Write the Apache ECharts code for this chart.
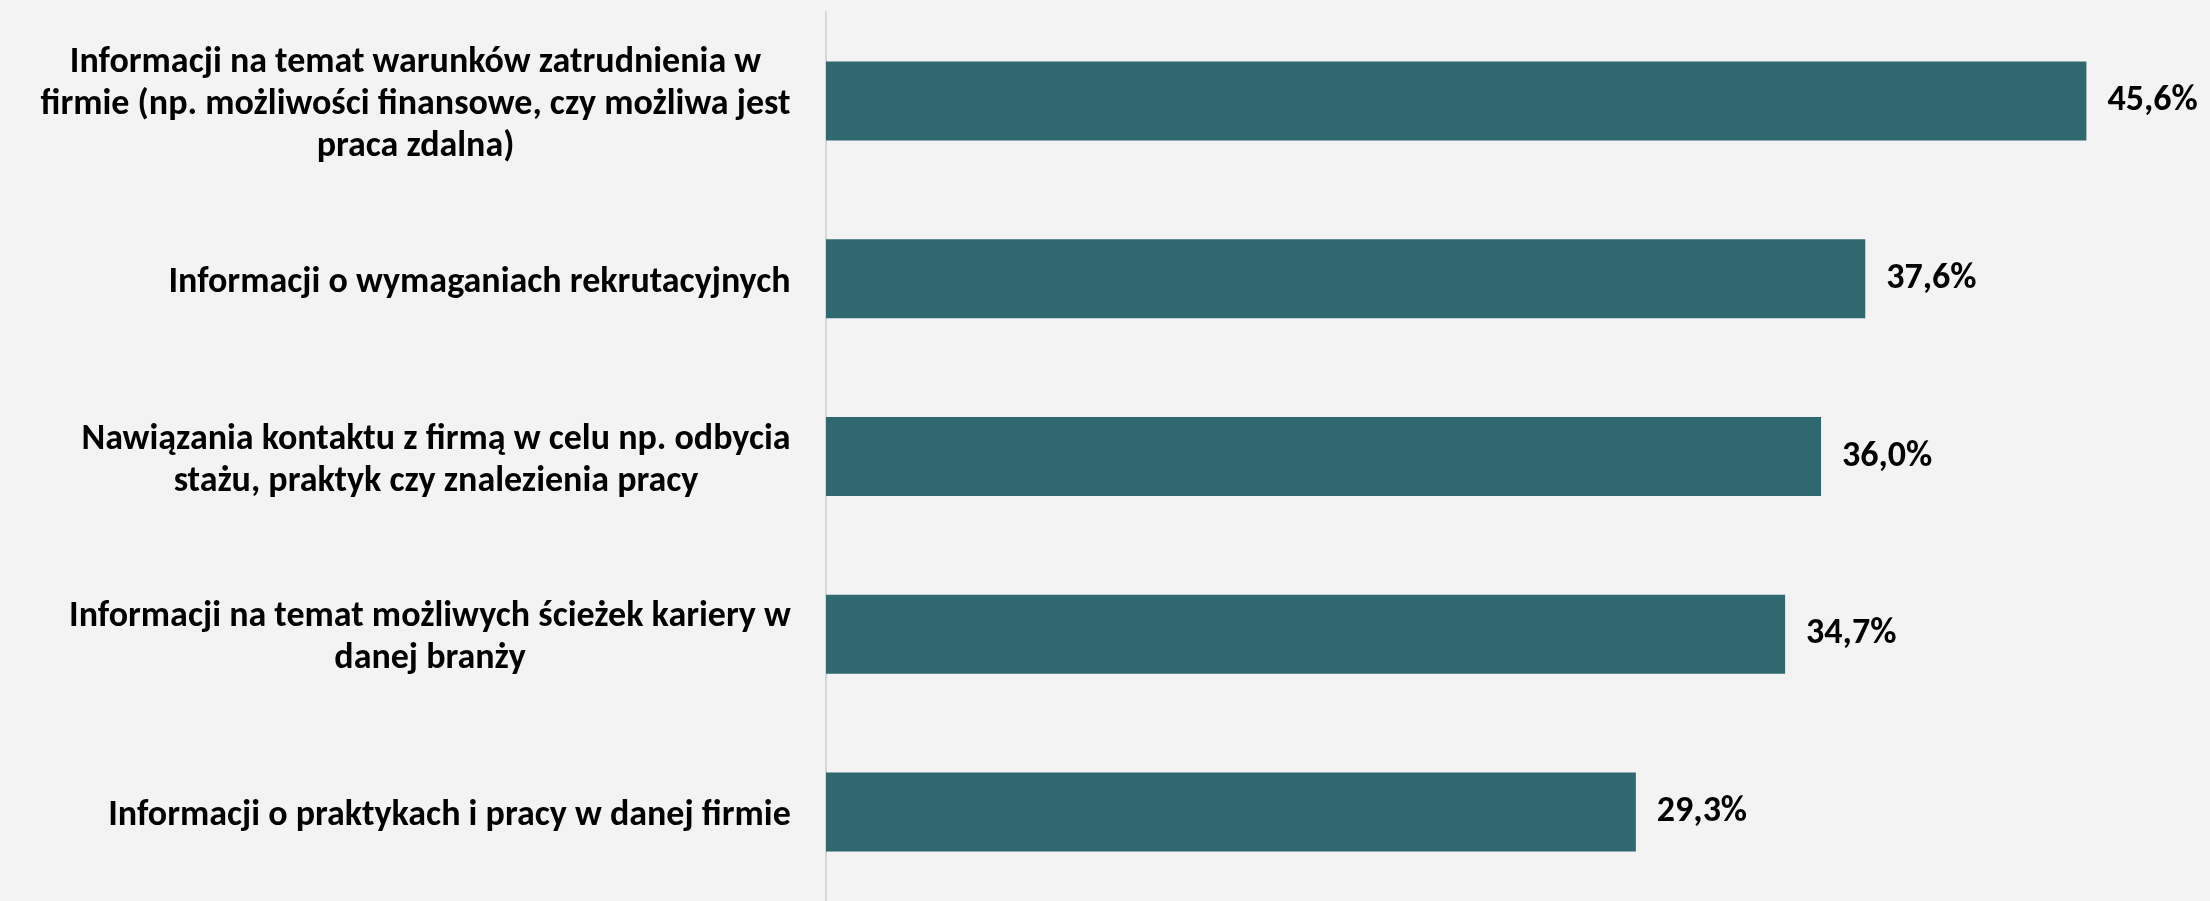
<!DOCTYPE html>
<html>
<head>
<meta charset="utf-8">
<script src="https://cdn.jsdelivr.net/npm/echarts@6/dist/echarts.min.js"></script>
<style>
  html, body { margin: 0; padding: 0; background: #f3f3f3; }
  #chart { width: 2210px; height: 901px; }
</style>
</head>
<body>
<div id="chart"></div>
<script>
// dane
var categories = [
    'Informacji na temat warunków zatrudnienia w\nfirmie (np. możliwości finansowe, czy możliwa jest\npraca zdalna)',
    'Informacji o wymaganiach rekrutacyjnych',
    'Nawiązania kontaktu z firmą w celu np. odbycia\nstażu, praktyk czy znalezienia pracy',
    'Informacji na temat możliwych ścieżek kariery w\ndanej branży',
    'Informacji o praktykach i pracy w danej firmie'
]
var values = [45.6, 37.6, 36.0, 34.7, 29.3]

var FONT = "Carlito, 'Liberation Sans Narrow', 'Open Sans', sans-serif"
var FS = 36

// measure widest line of each label so lines get centred inside the block
var ctx = document.createElement('canvas').getContext('2d')
ctx.font = 'bold ' + FS + 'px ' + FONT
var rich = {}
categories.forEach(function (c, i) {
    var w = 0
    c.split('\n').forEach(function (l) {
        w = Math.max(w, ctx.measureText(l).width)
    })
    rich['w' + i] = {
        width: Math.ceil(w) + 2,
        align: 'center',
        fontSize: FS,
        fontWeight: 'bold',
        fontFamily: FONT,
        color: '#000',
        lineHeight: 42
    }
})

var myChart = echarts.init(document.getElementById('chart'))
myChart.setOption({
    backgroundColor: '#f3f3f3',
    animation: false,
    grid: {
        left: 826,
        top: 12,
        width: 1382,
        height: 897
    },
    xAxis: {
        type: 'value',
        min: 0,
        max: 50,
        show: false
    },
    yAxis: {
        type: 'category',
        inverse: true,
        data: categories,
        axisLine: { show: true, lineStyle: { color: '#d6d6d6', width: 2 } },
        axisTick: { show: false },
        axisLabel: {
            margin: 34,
            align: 'right',
            padding: [8, 0, 0, 0],
            formatter: function (value, index) {
                return value.split('\n').map(function (l) {
                    return '{w' + index + '|' + l + '}'
                }).join('\n')
            },
            rich: rich
        }
    },
    series: [{
        type: 'bar',
        data: values,
        barWidth: 79,
        itemStyle: { color: '#306870' },
        label: {
            show: true,
            position: 'right',
            distance: 21,
            fontSize: FS,
            fontWeight: 'bold',
            fontFamily: FONT,
            color: '#000',
            formatter: function (p) {
                return p.value.toFixed(1).replace('.', ',') + '%'
            }
        }
    }]
})
</script>
</body>
</html>
